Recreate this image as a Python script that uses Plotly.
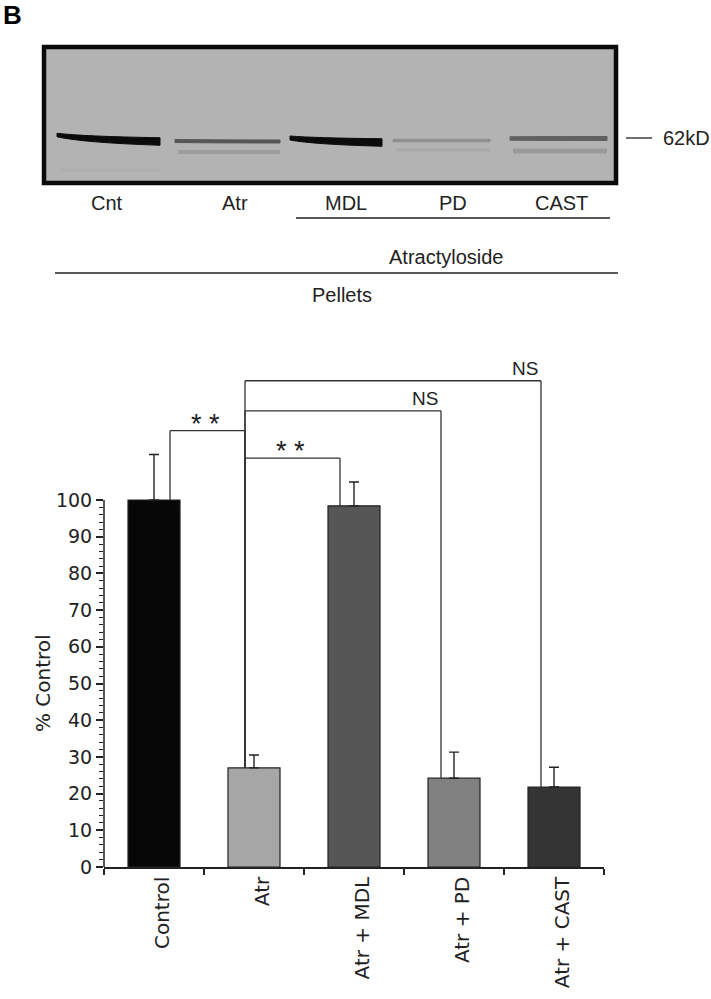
import plotly.graph_objects as go

# ---------------- data ----------------
groups = ["Control", "Atr", "Atr + MDL", "Atr + PD", "Atr + CAST"]
pct_control = [100, 27.0, 98.4, 24.2, 21.8]
err_upper = [12.4, 3.5, 6.5, 7.1, 5.4]
y_ticks = [0, 10, 20, 30, 40, 50, 60, 70, 80, 90, 100]

# comparisons: (left group index, right group index, label, bracket level in % control)
comparisons = [
    (0, 1, "* *", 118.9),
    (1, 2, "* *", 111.4),
    (1, 3, "NS", 124.3),
    (1, 4, "NS", 132.5),
]

# western blot
lane_labels = ["Cnt", "Atr", "MDL", "PD", "CAST"]
main_band_color = ["#0b0b0b", "#555555", "#0b0b0b", "#8e8e8e", "#606060"]
lower_band_color = ["#adadad", "#9b9b9b", "#b0b0b0", "#a6a6a6", "#979797"]
marker_label = "62kD"
group_labels = ["Atractyloside", "Pellets"]

# ---------------- style / layout ----------------
W, H = 711, 999
bar_colors = ["#070707", "#a6a6a6", "#565656", "#818181", "#343434"]
ink = "#222222"
bracket_offset = [0.16, -0.09, -0.14, -0.13, -0.13]

# lane geometry (pixels of the page) for the blot picture
lane_x0 = [57, 175, 290, 393, 510]
lane_x1 = [160, 280, 382, 490, 607]
lane_label_x = [107, 235, 346, 453, 561]
band_yl = [135.0, 141.0, 138.0, 140.5, 138.5]   # band centre at left end
band_yr = [141.5, 141.5, 142.5, 140.5, 138.5]   # band centre at right end
band_tl = [3.5, 3.0, 4.0, 2.5, 3.5]              # thickness at left
band_tr = [7.5, 3.0, 7.5, 2.5, 4.0]              # thickness at right
lower_y = [170, 152, 168, 150, 151]
lower_t = [2.5, 4, 2, 3, 5]


def px(x):
    return x / W


def py(y):
    return 1 - y / H


fig = go.Figure()

fig.add_trace(go.Bar(
    x=groups, y=pct_control,
    marker=dict(color=bar_colors, line=dict(color=ink, width=1.2)),
    width=0.52,
    error_y=dict(type="data", array=err_upper, arrayminus=[0] * len(groups),
                 symmetric=False, color=ink, thickness=1.4, width=5),
    hoverinfo="skip",
))

shapes = []
annotations = []

# y axis line only from 0 to 100
shapes.append(dict(type="line", xref="x domain", yref="y", x0=0, x1=0,
                   y0=0, y1=max(y_ticks), line=dict(color=ink, width=1.5)))

# significance brackets
for (i, j, lab, lvl) in comparisons:
    xi = i + bracket_offset[i]
    xj = j + bracket_offset[j]
    shapes.append(dict(type="line", xref="x", yref="y", x0=xi, x1=xj, y0=lvl, y1=lvl,
                       line=dict(color="#333333", width=1.3)))
    shapes.append(dict(type="line", xref="x", yref="y", x0=xi, x1=xi, y0=lvl, y1=pct_control[i],
                       line=dict(color="#333333", width=1.3)))
    shapes.append(dict(type="line", xref="x", yref="y", x0=xj, x1=xj, y0=lvl, y1=pct_control[j],
                       line=dict(color="#333333", width=1.3)))
    if lab == "NS":
        annotations.append(dict(x=xj, y=lvl, xref="x", yref="y", text=lab, showarrow=False,
                                xanchor="right", yanchor="bottom", xshift=-1, yshift=0,
                                font=dict(family="Liberation Sans", size=19, color=ink)))
    else:
        annotations.append(dict(x=(xi + xj) / 2 - 0.02, y=lvl, xref="x", yref="y", text=lab,
                                showarrow=False, xanchor="center", yanchor="bottom", yshift=-10,
                                font=dict(family="Liberation Sans", size=27, color=ink)))

# ---- western blot picture ----
box = dict(x0=44, x1=616, y0=47, y1=183)
shapes.append(dict(type="rect", xref="paper", yref="paper",
                   x0=px(box["x0"]), x1=px(box["x1"]), y0=py(box["y0"]), y1=py(box["y1"]),
                   fillcolor="#b3b3b3", line=dict(color="#0a0a0a", width=4.5), layer="below"))

for k in range(len(lane_labels)):
    x0, x1 = lane_x0[k], lane_x1[k]
    xm = x0 + 0.25 * (x1 - x0)
    # secondary faint band
    lt = lower_t[k]
    path = (f"M {px(x0 + 3)},{py(lower_y[k] - lt / 2)} L {px(x1)},{py(lower_y[k] - lt / 2)} "
            f"L {px(x1)},{py(lower_y[k] + lt / 2)} L {px(x0 + 3)},{py(lower_y[k] + lt / 2)} Z")
    shapes.append(dict(type="path", xref="paper", yref="paper", path=path,
                       fillcolor=lower_band_color[k], line=dict(width=0), opacity=0.9))
    # main band (curved)
    ycm = band_yl[k] + 0.7 * (band_yr[k] - band_yl[k])
    tm = band_tl[k] + 0.7 * (band_tr[k] - band_tl[k])
    top = [(x0, band_yl[k] - band_tl[k] / 2), (xm, ycm - tm / 2), (x1, band_yr[k] - band_tr[k] / 2)]
    bot = [(x1, band_yr[k] + band_tr[k] / 2), (xm, ycm + tm / 2), (x0, band_yl[k] + band_tl[k] / 2)]
    path = f"M {px(top[0][0])},{py(top[0][1])} "
    path += f"Q {px(top[1][0])},{py(top[1][1])} {px(top[2][0])},{py(top[2][1])} "
    path += f"L {px(bot[0][0])},{py(bot[0][1])} "
    path += f"Q {px(bot[1][0])},{py(bot[1][1])} {px(bot[2][0])},{py(bot[2][1])} Z"
    shapes.append(dict(type="path", xref="paper", yref="paper", path=path,
                       fillcolor=main_band_color[k], line=dict(color=main_band_color[k], width=1)))
    annotations.append(dict(x=px(lane_label_x[k]), y=py(203), xref="paper", yref="paper",
                            text=lane_labels[k], showarrow=False, xanchor="center", yanchor="middle",
                            font=dict(family="Liberation Sans", size=20, color=ink)))

# marker
shapes.append(dict(type="line", xref="paper", yref="paper", x0=px(626), x1=px(652),
                   y0=py(138), y1=py(138), line=dict(color=ink, width=1.3)))
annotations.append(dict(x=px(661), y=py(138), xref="paper", yref="paper", text=marker_label,
                        showarrow=False, xanchor="left", yanchor="middle",
                        font=dict(family="Liberation Sans", size=20, color=ink)))

# group lines + labels
shapes.append(dict(type="line", xref="paper", yref="paper", x0=px(296), x1=px(610),
                   y0=py(218), y1=py(218), line=dict(color=ink, width=1.5)))
annotations.append(dict(x=px(446), y=py(257), xref="paper", yref="paper", text=group_labels[0],
                        showarrow=False, xanchor="center", yanchor="middle",
                        font=dict(family="Liberation Sans", size=20, color=ink)))
shapes.append(dict(type="line", xref="paper", yref="paper", x0=px(55), x1=px(618),
                   y0=py(273), y1=py(273), line=dict(color=ink, width=1.5)))
annotations.append(dict(x=px(342), y=py(295), xref="paper", yref="paper", text=group_labels[1],
                        showarrow=False, xanchor="center", yanchor="middle",
                        font=dict(family="Liberation Sans", size=20, color=ink)))

# panel letter
annotations.append(dict(x=px(1), y=py(15), xref="paper", yref="paper", text="<b>B</b>",
                        showarrow=False, xanchor="left", yanchor="middle",
                        font=dict(family="Liberation Sans", size=26, color="#000000")))

# y-axis title
annotations.append(dict(x=px(43), y=py(683), xref="paper", yref="paper", text="% Control",
                        showarrow=False, textangle=-90, xanchor="center", yanchor="middle",
                        font=dict(family="DejaVu Sans", size=20, color=ink)))

minor_vals = [v for v in range(0, 101, 2) if v % 10 != 0]

fig.update_layout(
    width=W, height=H,
    margin=dict(l=0, r=0, t=0, b=0),
    paper_bgcolor="white", plot_bgcolor="white",
    showlegend=False,
    shapes=shapes, annotations=annotations,
    bargap=0.48,
    xaxis=dict(
        domain=[px(104), px(604)],
        type="category", range=[-0.5, 4.5],
        tickson="boundaries", ticks="outside", ticklen=6, tickwidth=1.5, tickcolor=ink,
        showline=True, linecolor=ink, linewidth=1.5,
        showgrid=False, zeroline=False,
        tickangle=-90, ticklabelshift=8,
        tickfont=dict(family="DejaVu Sans", size=20, color=ink),
        automargin=False, fixedrange=True,
    ),
    yaxis=dict(
        domain=[py(867), py(353.2)],
        range=[0, 140],
        tickmode="array", tickvals=y_ticks, ticktext=[str(v) for v in y_ticks],
        ticks="outside", ticklen=7, tickwidth=1.5, tickcolor=ink,
        minor=dict(tickmode="array", tickvals=minor_vals, ticks="outside", ticklen=4,
                   tickwidth=1.2, tickcolor=ink, showgrid=False),
        showline=False, showgrid=False, zeroline=False,
        tickfont=dict(family="DejaVu Sans", size=19, color=ink),
        automargin=False, fixedrange=True,
    ),
)

fig.write_html(
    "out.html",
    config={"displayModeBar": False},
    post_script="document.body.style.margin='0';document.body.style.padding='0';",
)
